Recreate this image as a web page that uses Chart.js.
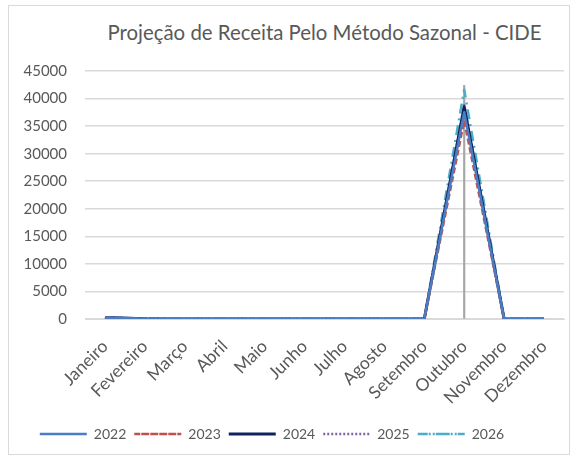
<!DOCTYPE html>
<html>
<head>
<meta charset="utf-8">
<script src="https://cdn.jsdelivr.net/npm/chart.js@4"></script>
<style>
  html, body { margin: 0; padding: 0; background: #fff; }
  #wrap { position: relative; width: 577px; height: 459px; }
  #frame { position: absolute; left: 8px; top: 5px; width: 562px; height: 450px; border: 1px solid #D9D9D9; box-sizing: border-box; }
  #title { position: absolute; left: 85px; width: 479px; top: 20px; text-align: center; font: 20.4px Lato, 'Liberation Sans', sans-serif; color: #595959; white-space: nowrap; }
  canvas { position: absolute; left: 0; top: 0; }
</style>
</head>
<body>
<div id="wrap">
  <div id="frame"></div>
  <div id="title">Projeção de Receita Pelo Método Sazonal - CIDE</div>
  <canvas id="chart" width="577" height="459"></canvas>
</div>
<script>
const months = ["Janeiro", "Fevereiro", "Março", "Abril", "Maio", "Junho", "Julho", "Agosto", "Setembro", "Outubro", "Novembro", "Dezembro"];
const v2022 = [250, 40, 0, 0, 0, 0, 0, 0, 0, 37500, 0, 0];
const v2023 = [250, 40, 0, 0, 0, 0, 0, 0, 0, 36000, 0, 0];
const v2024 = [250, 40, 0, 0, 0, 0, 0, 0, 0, 38500, 0, 0];
const v2025 = [280, 40, 0, 0, 0, 0, 0, 0, 0, 38800, 0, 0];
const v2026 = [300, 50, 0, 0, 0, 0, 0, 0, 0, 41600, 0, 0];
const dropLine = [null, null, null, null, null, null, null, null, null, 42400, null, null];
const yTicks = [0, 5000, 10000, 15000, 20000, 25000, 30000, 35000, 40000, 45000];

const font = "Lato, 'Liberation Sans', sans-serif";
const textColor = "#595959";

const lineSet = (label, data, color, width, dash) => ({
  type: "line",
  label,
  data,
  borderColor: color,
  backgroundColor: color,
  borderWidth: width,
  borderDash: dash,
  borderJoinStyle: "round",
  pointRadius: 0,
  tension: 0,
  fill: false
});

// Excel puts the legend a bit left of centre
const legendShift = {
  id: "legendShift",
  afterLayout(chart) {
    chart.legend.left -= 15;
    chart.legend.right -= 15;
  }
};

new Chart(document.getElementById("chart"), {
  data: {
    labels: months,
    datasets: [
      lineSet("2022", v2022, "#4A7EC4", 2.5, []),
      lineSet("2023", v2023, "#C0504D", 2.5, [6, 3]),
      lineSet("2024", v2024, "#0F2260", 3, []),
      lineSet("2025", v2025, "#7F62A8", 2.5, [2, 2]),
      lineSet("2026", v2026, "#4BACC6", 2.5, [10, 5, 2, 5]),
      {
        type: "bar",
        label: "drop",
        data: dropLine,
        backgroundColor: "#A6A6A6",
        barThickness: 1.5,
        order: 10
      }
    ]
  },
  plugins: [legendShift],
  options: {
    responsive: false,
    animation: false,
    layout: { padding: { left: 10, right: 13, top: 71, bottom: 8 } },
    plugins: {
      legend: {
        position: "bottom",
        labels: {
          filter: (item) => item.text !== "drop",
          color: textColor,
          font: { family: font, size: 14 },
          boxWidth: 47,
          boxHeight: 0,
          padding: 8,
          generateLabels: (chart) => chart.data.datasets.map((ds, i) => ({
            text: ds.label,
            fillStyle: ds.borderColor,
            strokeStyle: ds.borderColor || ds.backgroundColor,
            lineWidth: ds.borderWidth || 0,
            lineDash: ds.borderDash || [],
            fontColor: textColor,
            hidden: false,
            datasetIndex: i
          }))
        }
      },
      tooltip: { enabled: false }
    },
    scales: {
      x: {
        offset: true,
        grid: { display: false },
        border: { color: "#D9D9D9" },
        afterFit: (axis) => { axis.height = 100; },
        ticks: {
          color: textColor,
          font: { family: font, size: 17.5 },
          minRotation: 45,
          maxRotation: 45,
          autoSkip: false,
          padding: 9
        }
      },
      y: {
        min: 0,
        max: 45000,
        afterBuildTicks: (axis) => { axis.ticks = yTicks.map((v) => ({ value: v })); },
        afterFit: (axis) => { axis.width = 75; },
        grid: { color: "#D9D9D9", lineWidth: 1.5, drawTicks: false },
        border: { display: false },
        ticks: {
          color: textColor,
          font: { family: font, size: 15 },
          padding: 18,
          callback: (v) => String(v)
        }
      }
    }
  }
});
</script>
</body>
</html>
